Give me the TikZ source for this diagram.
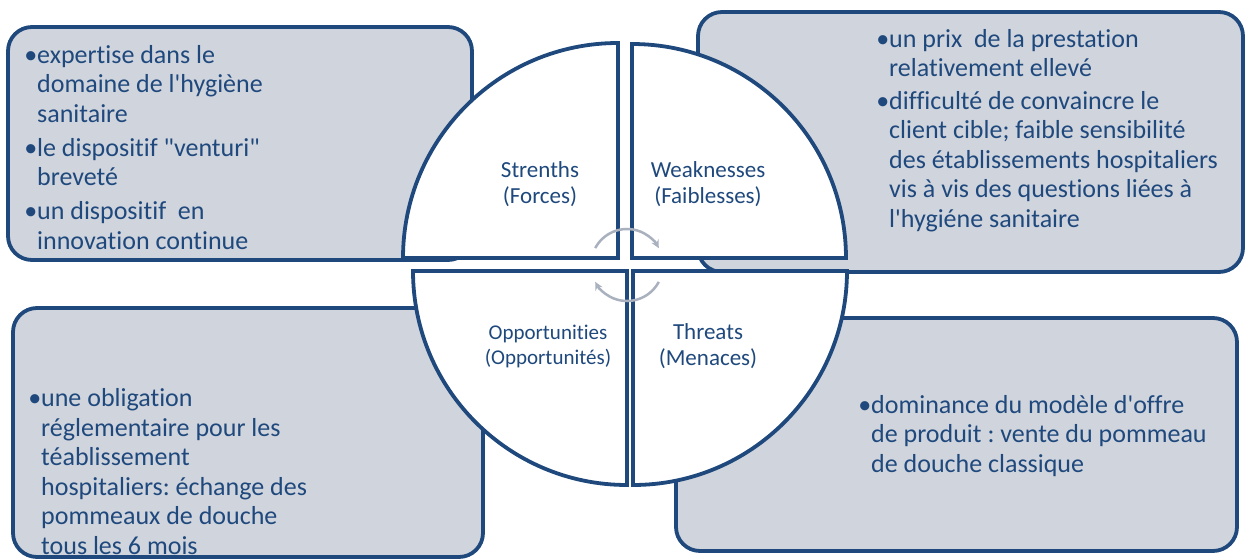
\documentclass[tikz,border=0pt]{standalone}
\usepackage{fontspec}
\setmainfont{Carlito}[Ligatures={TeXOff,NoCommon}]
\usepackage{xcolor}
\definecolor{swotblue}{HTML}{1F497D}
\definecolor{swotgrey}{HTML}{D0D4DD}
\definecolor{cyclegrey}{HTML}{A9B0BE}
\newcommand{\bul}{\llap{\textbullet}}
\frenchspacing

\begin{document}
\begin{tikzpicture}[x=1pt,y=1pt,
    box/.style={draw=swotblue, line width=3.8pt, fill=swotgrey, rounded corners=24pt},
    quart/.style={draw=swotblue, line width=3.8pt, fill=white},
    boxtext/.style={anchor=base west, align=left, text=swotblue, inner sep=0pt,
        font=\fontsize{26}{29.5}\selectfont},
    lab/.style={align=center, text=swotblue, inner sep=0pt, font=\fontsize{23}{26}\selectfont}]
            \useasboundingbox (0,0) rectangle (1248,-559);

            % les quatre cadres
            \draw[box] (8,-27) rectangle (472,-260);
            \draw[box] (698,-12) rectangle (1243,-272);
            \draw[box] (13,-308) rectangle (483,-557);
            \draw[box] (676,-318) rectangle (1237,-551);

            % le cercle en quatre quarts
            \draw[quart] (618,-258) -- (403,-258) arc[start angle=180, end angle=90, radius=215] -- cycle;
            \draw[quart] (632,-258) -- (632,-44) arc[start angle=90, end angle=0, radius=214] -- cycle;
            \draw[quart] (627,-271) -- (627,-485) arc[start angle=270, end angle=180, radius=214] -- cycle;
            \draw[quart] (633,-271) -- (847,-271) arc[start angle=0, end angle=-90, radius=214] -- cycle;

            % textes des cadres (ancre sur la derniere ligne)
            \node[boxtext] (forces) at (37,-249) {\bul expertise dans le\\ domaine de l'hygiène\\ sanitaire\\[4.5pt]
                \bul le dispositif "venturi"\\ breveté\\[4.5pt]
                \bul un dispositif\ \ en\\ innovation continue};
            \node[boxtext] (faibl) at (889,-227) {\bul un prix\ \ de la prestation\\ relativement ellevé\\[3pt]
                \bul difficulté de convaincre le\\ client cible; faible sensibilité\\ des établissements hospitaliers\\
                vis à vis des questions liées à\\ l'hygiéne sanitaire};
            \node[boxtext] (opport) at (41,-554) {\bul une obligation\\ réglementaire pour les\\ téablissement\\
                hospitaliers: échange des\\ pommeaux de douche\\ tous les 6 mois};
            \node[boxtext] (menace) at (871,-472) {\bul dominance du modèle d'offre\\ de produit : vente du pommeau\\ de douche classique};

            % titres des quarts
            \node[lab] (s) at (540,-184) {Strenths\\(Forces)};
            \node[lab] (w) at (708,-184) {Weaknesses\\(Faiblesses)};
            \node[lab, font=\fontsize{21}{25}\selectfont] (o) at (548,-346) {Opportunities\\(Opportunités)};
            \node[lab] (t) at (708,-346) {Threats\\(Menaces)};

            % fleches du cycle
            \coordinate (mid) at (627,-265);
            \draw[cyclegrey, line width=2.5pt, ->, >=stealth] ([shift={(152:36)}]mid) arc[start angle=152, end angle=28, radius=36];
            \draw[cyclegrey, line width=2.5pt, ->, >=stealth] ([shift={(-28:36)}]mid) arc[start angle=-28, end angle=-152, radius=36];
        \end{tikzpicture}
\end{document}
